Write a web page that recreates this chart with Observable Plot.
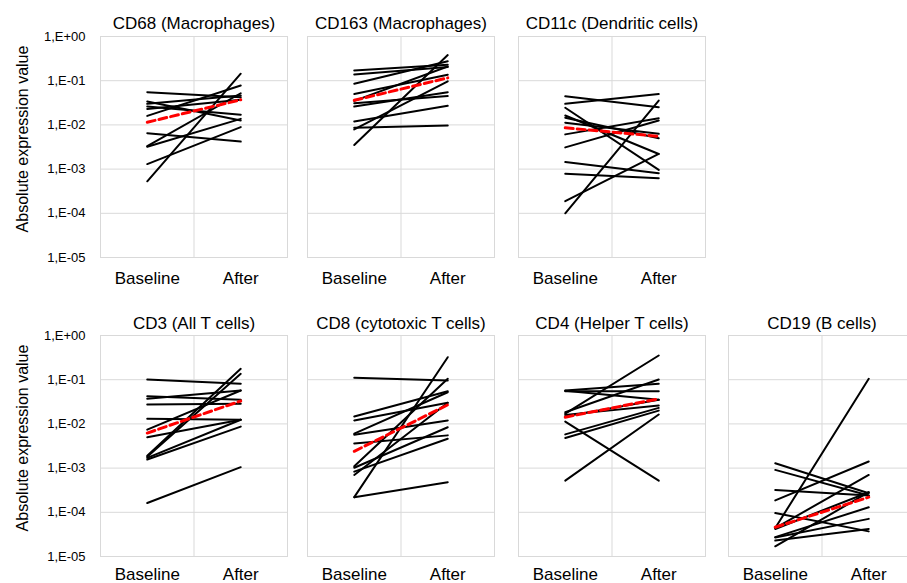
<!DOCTYPE html>
<html>
<head>
<meta charset="utf-8">
<script src="https://cdn.jsdelivr.net/npm/d3@7"></script>
<script src="https://cdn.jsdelivr.net/npm/@observablehq/plot@0.6"></script>
<style>
  html, body { margin: 0; padding: 0; background: #fff; overflow: hidden; }
  #chart { position: relative; width: 907px; height: 583px; overflow: hidden; background: #fff; }
  #chart > svg, #chart > div { position: absolute; }
</style>
</head>
<body>
<div id="chart"></div>
<script>
// ---------- data ----------
const categories = ["Baseline", "After"];
const yTicks = [1, 0.1, 0.01, 0.001, 0.0001, 0.00001];
const yTickLabels = ["1,E+00", "1,E-01", "1,E-02", "1,E-03", "1,E-04", "1,E-05"];
const yTitle = "Absolute expression value";

const titles = ["CD68 (Macrophages)", "CD163 (Macrophages)", "CD11c (Dendritic cells)",
                "CD3 (All T cells)", "CD8 (cytotoxic T cells)", "CD4 (Helper T cells)", "CD19 (B cells)"];

const cd68Baseline = [0.055, 0.00053, 0.0013, 0.0032, 0.0033, 0.0065, 0.016, 0.034, 0.030, 0.026, 0.023];
const cd68After    = [0.042, 0.144, 0.0089, 0.0137, 0.052, 0.0042, 0.078, 0.0126, 0.046, 0.017, 0.037];
const cd68Mean     = [0.0115, 0.037];

const cd163Baseline = [0.170, 0.138, 0.085, 0.050, 0.035, 0.031, 0.026, 0.012, 0.0086, 0.0079, 0.0035];
const cd163After    = [0.229, 0.203, 0.276, 0.136, 0.210, 0.045, 0.055, 0.027, 0.0097, 0.097, 0.38];
const cd163Mean     = [0.036, 0.116];

const cd11cBaseline = [0.0445, 0.030, 0.0244, 0.0163, 0.0145, 0.0112, 0.0061, 0.0031, 0.00144, 0.00078, 0.000188, 0.0001];
const cd11cAfter    = [0.0252, 0.050, 0.00096, 0.0022, 0.0050, 0.0063, 0.0142, 0.0126, 0.00081, 0.00062, 0.0022, 0.0355];
const cd11cMean     = [0.0086, 0.0055];

const cd3Baseline = [0.101, 0.042, 0.037, 0.0275, 0.013, 0.0074, 0.0050, 0.0019, 0.0018, 0.00156, 0.0017, 0.000162];
const cd3After    = [0.081, 0.035, 0.057, 0.0285, 0.0124, 0.057, 0.0124, 0.176, 0.136, 0.0087, 0.0124, 0.00105];
const cd3Mean     = [0.0062, 0.033];

const cd8Baseline = [0.110, 0.0147, 0.012, 0.0060, 0.0057, 0.0036, 0.0011, 0.00102, 0.00083, 0.00070, 0.00022, 0.00022];
const cd8After    = [0.096, 0.055, 0.030, 0.052, 0.012, 0.0055, 0.105, 0.0084, 0.0046, 0.030, 0.323, 0.00048];
const cd8Mean     = [0.0024, 0.027];

const cd4Baseline = [0.057, 0.055, 0.056, 0.0184, 0.017, 0.0148, 0.016, 0.0113, 0.0058, 0.0048, 0.00052];
const cd4After    = [0.081, 0.055, 0.035, 0.101, 0.353, 0.035, 0.026, 0.00052, 0.023, 0.020, 0.0163];
const cd4Mean     = [0.0142, 0.037];

const cd19Baseline = [0.00129, 0.00091, 0.00032, 0.000186, 0.000096, 0.000044, 0.000044, 0.000042, 0.0000275, 0.000023, 0.000017, 0.000027];
const cd19After    = [0.00027, 0.00024, 0.00024, 0.00141, 0.000037, 0.105, 0.00070, 0.000285, 0.00013, 0.000042, 0.000285, 0.000071];
const cd19Mean     = [0.000046, 0.00022];

// ---------- layout (positions kept separate from data) ----------
const FONT = '"Liberation Sans", Arial, Helvetica, sans-serif';
const colLeft = [100, 307, 518, 728];   // frame left edge per column
const panelW = 187;
const rows = [
  {svgTop: 0,   marginTop: 36, height: 287, marginBottom: 30, titleDy: -7.5, tickPadding: 14},
  {svgTop: 300, marginTop: 35, height: 283, marginBottom: 27, titleDy: -7,   tickPadding: 11}
];
const panels = [
  {title: titles[0], base: cd68Baseline,  after: cd68After,  mean: cd68Mean,  row: 0, col: 0},
  {title: titles[1], base: cd163Baseline, after: cd163After, mean: cd163Mean, row: 0, col: 1},
  {title: titles[2], base: cd11cBaseline, after: cd11cAfter, mean: cd11cMean, row: 0, col: 2},
  {title: titles[3], base: cd3Baseline,   after: cd3After,   mean: cd3Mean,   row: 1, col: 0},
  {title: titles[4], base: cd8Baseline,   after: cd8After,   mean: cd8Mean,   row: 1, col: 1},
  {title: titles[5], base: cd4Baseline,   after: cd4After,   mean: cd4Mean,   row: 1, col: 2},
  {title: titles[6], base: cd19Baseline,  after: cd19After,  mean: cd19Mean,  row: 1, col: 3}
];

const GRID = "#d9d9d9";
const container = document.getElementById("chart");

for (const p of panels) {
  const r = rows[p.row];
  const showY = p.col === 0;
  const marginLeft = showY ? colLeft[0] : 1;
  const svgLeft = showY ? 0 : colLeft[p.col] - 1;
  const width = marginLeft + panelW + 1;

  const lineData = [];
  p.base.forEach((v, i) => {
    lineData.push({id: i, t: 0, v});
    lineData.push({id: i, t: 1, v: p.after[i]});
  });
  const meanData = p.mean.map((v, t) => ({t, v}));

  const marks = [
    Plot.gridY(yTicks, {stroke: GRID, strokeOpacity: 1, strokeWidth: 1}),
    Plot.ruleX([0.5], {stroke: GRID, strokeWidth: 1}),
    Plot.frame({stroke: GRID, strokeWidth: 1}),
    Plot.line(lineData, {x: "t", y: "v", z: "id", stroke: "#000", strokeWidth: 2}),
    Plot.line(meanData, {x: "t", y: "v", stroke: "#ff0000", strokeWidth: 3, strokeDasharray: "8,4"}),
    Plot.axisX([0, 1], {tickSize: 0, tickPadding: r.tickPadding, fontSize: 17, label: null,
                        tickFormat: (d) => categories[d]}),
    Plot.text([p.title], {text: (d) => d, frameAnchor: "top", lineAnchor: "bottom",
                          dy: r.titleDy, fontSize: 17, fill: "#000"})
  ];
  if (showY) {
    marks.push(Plot.axisY(yTicks, {tickSize: 0, tickPadding: 15, fontSize: 13, label: null,
                                   tickFormat: (d) => yTickLabels[Math.round(-Math.log10(d))]}));
    marks.push(Plot.text([yTitle], {text: (d) => d, frameAnchor: "left", rotate: -90,
                                    textAnchor: "middle", lineAnchor: "middle",
                                    dx: -78, dy: -8, fontSize: 16, fill: "#000"}));
  }

  const chart = Plot.plot({
    width, height: r.height,
    marginLeft, marginRight: 1, marginTop: r.marginTop, marginBottom: r.marginBottom,
    style: {fontFamily: FONT, color: "#000", background: "transparent"},
    x: {type: "linear", domain: [-0.5, 1.5], axis: null, label: null},
    y: {type: "log", domain: [1e-5, 1], axis: null, label: null},
    marks
  });
  chart.style.left = svgLeft + "px";
  chart.style.top = r.svgTop + "px";
  container.appendChild(chart);
}
</script>
</body>
</html>
